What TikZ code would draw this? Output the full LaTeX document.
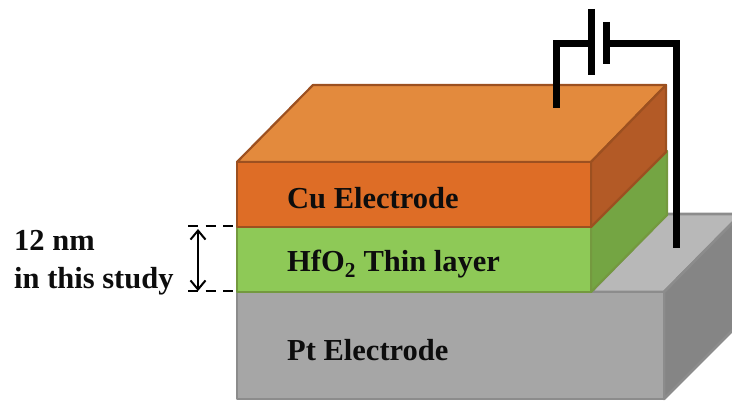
\documentclass[tikz,border=0pt]{standalone}
\usepackage{fontspec}
\setmainfont{Liberation Serif}
\usetikzlibrary{arrows.meta}
\definecolor{cutop}{HTML}{E38A3D}
\definecolor{cufront}{HTML}{DE6D26}
\definecolor{cuside}{HTML}{B35A26}
\definecolor{cuedge}{HTML}{9C5020}
\definecolor{hffront}{HTML}{8EC957}
\definecolor{hfside}{HTML}{74A543}
\definecolor{hfedge}{HTML}{74993F}
\definecolor{pttop}{HTML}{B8B8B8}
\definecolor{ptfront}{HTML}{A6A6A6}
\definecolor{ptside}{HTML}{858585}
\definecolor{ptedge}{HTML}{8C8C8C}
\definecolor{labelink}{HTML}{0D0D0D}
\tikzset{
    cu face/.style={draw=cuedge, line width=2.2pt, line join=round},
    hf face/.style={draw=hfedge, line width=2.2pt, line join=round},
    pt face/.style={draw=ptedge, line width=2.6pt, line join=round},
    layer label/.style={anchor=base west, inner sep=0pt, text=labelink, font=\fontsize{30.5}{30.5}\selectfont\bfseries},
    wire/.style={line width=7pt, line cap=butt, line join=miter},
    guide/.style={line width=2pt, dash pattern=on 10pt off 7.5pt},
    span/.style={line width=2pt, {Straight Barb[length=9pt,width=15pt,line width=2pt]}-{Straight Barb[length=9pt,width=15pt,line width=2pt]}},
}
\begin{document}
\begin{tikzpicture}[x=1pt, y=-1pt]
    \useasboundingbox (0,0) rectangle (732,401);
    % Pt electrode
    \begin{scope}
        \clip (0,0) rectangle (732,401);
        \fill[pttop, pt face] (591,292) -- (667,214) -- (741,214) -- (664,292) -- cycle;
        \fill[ptside, pt face] (664,292) -- (741,214) -- (741,322) -- (664,399) -- cycle;
        \fill[ptfront, pt face] (237,292) rectangle (664,399);
    \end{scope}
    % HfO2 layer
    \fill[hfside, hf face] (591,227) -- (667,151) -- (667,215) -- (591,292) -- cycle;
    \fill[hffront, hf face] (237,227) rectangle (591,292);
    % Cu electrode
    \fill[cutop, cu face] (237,162) -- (313,85) -- (666,85) -- (591,162) -- cycle;
    \fill[cuside, cu face] (591,162) -- (666,85) -- (666,152) -- (591,227) -- cycle;
    \fill[cufront, cu face] (237,162) rectangle (591,227);
    % labels
    \node[layer label] (cu) at (287,209) {Cu Electrode};
    \node[layer label] (hf) at (287,272) {HfO\textsubscript{2} Thin layer};
    \node[layer label] (pt) at (287,360) {Pt Electrode};
    \node[layer label] (nm) at (14,251) {12 nm};
    \node[layer label] (study) at (14,288) {in this study};
    % battery
    \coordinate (wireL) at (556,108);
    \coordinate (cornerL) at (556,44);
    \coordinate (plateA) at (591,44);
    \coordinate (plateAtop) at (591,9);
    \coordinate (plateAbot) at (591,75);
    \coordinate (plateB) at (606,44);
    \coordinate (plateBtop) at (606,22);
    \coordinate (plateBbot) at (606,64);
    \coordinate (cornerR) at (676,44);
    \coordinate (wireR) at (676,248);
    \draw[wire] (wireL) -- (cornerL) -- (plateA);
    \draw[wire] (plateAtop) -- (plateAbot);
    \draw[wire] (plateBtop) -- (plateBbot);
    \draw[wire] (plateB) -- (cornerR) -- (wireR);
    % thickness mark
    \coordinate (guideAl) at (188,226);
    \coordinate (guideAr) at (233,226);
    \coordinate (guideBl) at (188,291);
    \coordinate (guideBr) at (233,291);
    \coordinate (spanA) at (198,229);
    \coordinate (spanB) at (198,291);
    \draw[guide] (guideAl) -- (guideAr);
    \draw[guide] (guideBl) -- (guideBr);
    \draw[span] (spanA) -- (spanB);
\end{tikzpicture}
\end{document}
